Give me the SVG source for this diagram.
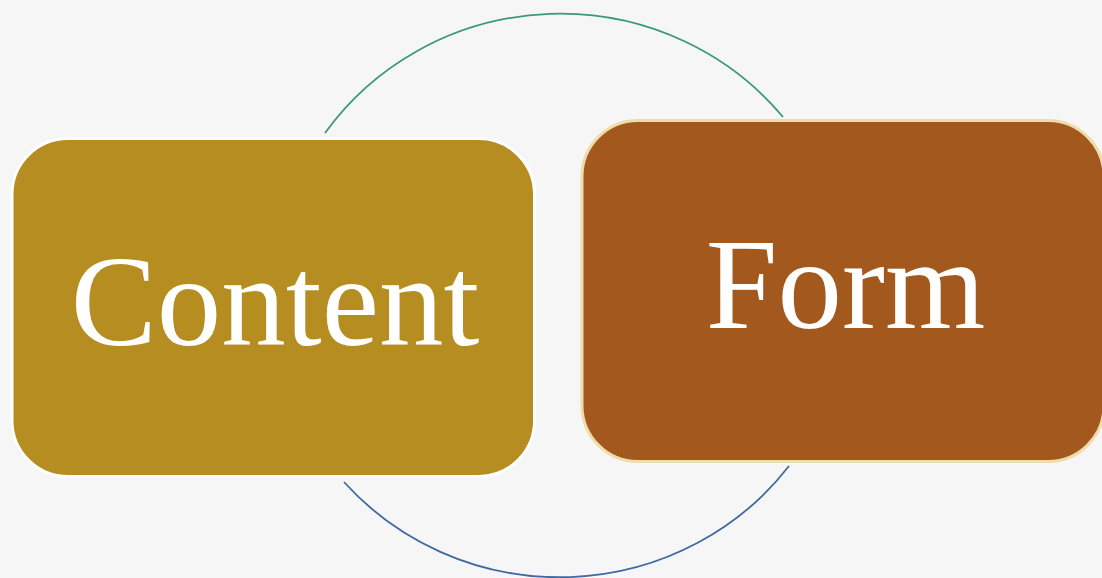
<svg xmlns="http://www.w3.org/2000/svg" width="1102" height="578" viewBox="0 0 1102 578">
<style>
.lbl{font-family:"Liberation Serif","EB Garamond",serif;font-size:129px;fill:#ffffff;text-anchor:middle}
.arc{fill:none;stroke-width:1.8}
</style>
<rect x="0" y="0" width="1102" height="578" fill="#f6f6f6"/>
<g id="connectors">
<path class="arc" stroke="#3a9a76" d="M325,133 A288,282 0 0 1 783,117"/>
<path class="arc" stroke="#3f6aa0" d="M789,466 A288,282 0 0 1 344,482"/>
</g>
<g id="node-content">
<rect x="12" y="138.5" width="522.5" height="338" rx="56" ry="56" fill="#b58d20" stroke="#ffffff" stroke-width="3"/>
<text class="lbl" x="275" y="345">Content</text>
</g>
<g id="node-form">
<rect x="582" y="120.5" width="522" height="341" rx="56" ry="56" fill="#a3591d" stroke="#efdcab" stroke-width="3"/>
<text class="lbl" x="845.5" y="328">Form</text>
</g>
</svg>
